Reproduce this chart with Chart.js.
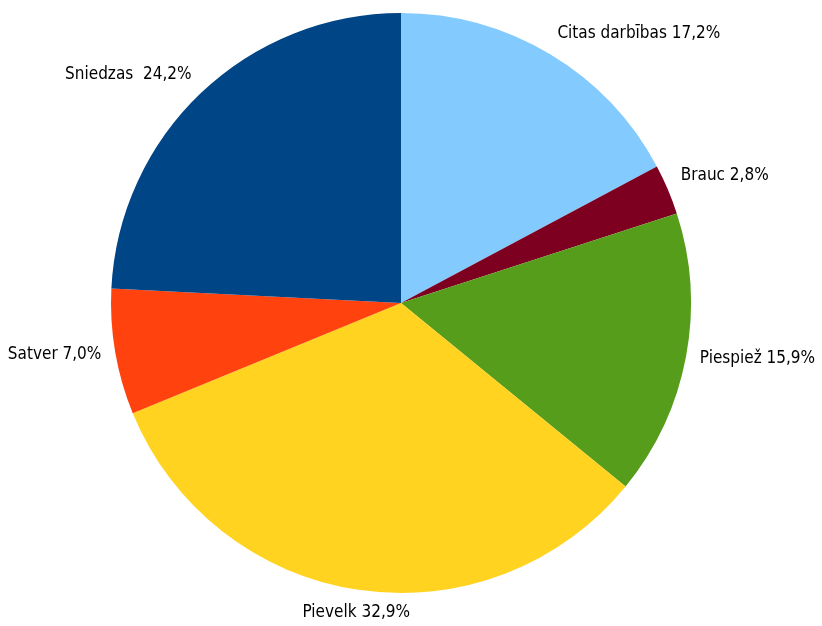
<!DOCTYPE html>
<html>
<head>
<meta charset="utf-8">
<script src="https://cdn.jsdelivr.net/npm/chart.js@4"></script>
<style>
  html, body { margin: 0; padding: 0; background: #fff; }
  #wrap { width: 822px; height: 626px; }
</style>
</head>
<body>
<div id="wrap"><canvas id="pie"></canvas></div>
<script>
// === Datos ===
const categorias = ['Citas darbības', 'Brauc', 'Piespiež', 'Pievelk', 'Satver', 'Sniedzas'];
const valores = [17.2, 2.8, 15.9, 32.9, 7.0, 24.2];
const etiquetas = ['Citas darbības 17,2%', 'Brauc 2,8%', 'Piespiež 15,9%', 'Pievelk 32,9%', 'Satver 7,0%', 'Sniedzas  24,2%'];
const colores = ['#83caff', '#7e0021', '#579d1c', '#ffd320', '#ff420e', '#004586'];

// etiquetas fuera del pastel
const etiquetasFuera = {
  id: 'etiquetasFuera',
  afterDatasetsDraw(chart) {
    const ctx = chart.ctx;
    const meta = chart.getDatasetMeta(0);
    ctx.save();
    ctx.font = '17px "DejaVu Sans Condensed", "Liberation Sans Narrow", sans-serif';
    ctx.fillStyle = '#000';
    meta.data.forEach((arc, i) => {
      const mid = (arc.startAngle + arc.endAngle) / 2;
      const dx = Math.cos(mid), dy = Math.sin(mid);
      const r = arc.outerRadius + 14;
      const x = arc.x + dx * r;
      const y = arc.y + dy * r;
      ctx.textAlign = dx > 0.3 ? 'left' : (dx < -0.3 ? 'right' : 'center');
      ctx.textBaseline = dy < -0.3 ? 'bottom' : (dy > 0.3 ? 'top' : 'middle');
      ctx.fillText(etiquetas[i], x, y);
    });
    ctx.restore();
  }
};

new Chart(document.getElementById('pie'), {
  type: 'pie',
  data: {
    labels: categorias,
    datasets: [{
      data: valores,
      backgroundColor: colores,
      borderWidth: 0
    }]
  },
  options: {
    responsive: true,
    maintainAspectRatio: false,
    animation: false,
    layout: { padding: { left: 111, right: 131, top: 13, bottom: 33 } },
    plugins: {
      legend: { display: false },
      tooltip: { enabled: false }
    }
  },
  plugins: [etiquetasFuera]
});
</script>
</body>
</html>
